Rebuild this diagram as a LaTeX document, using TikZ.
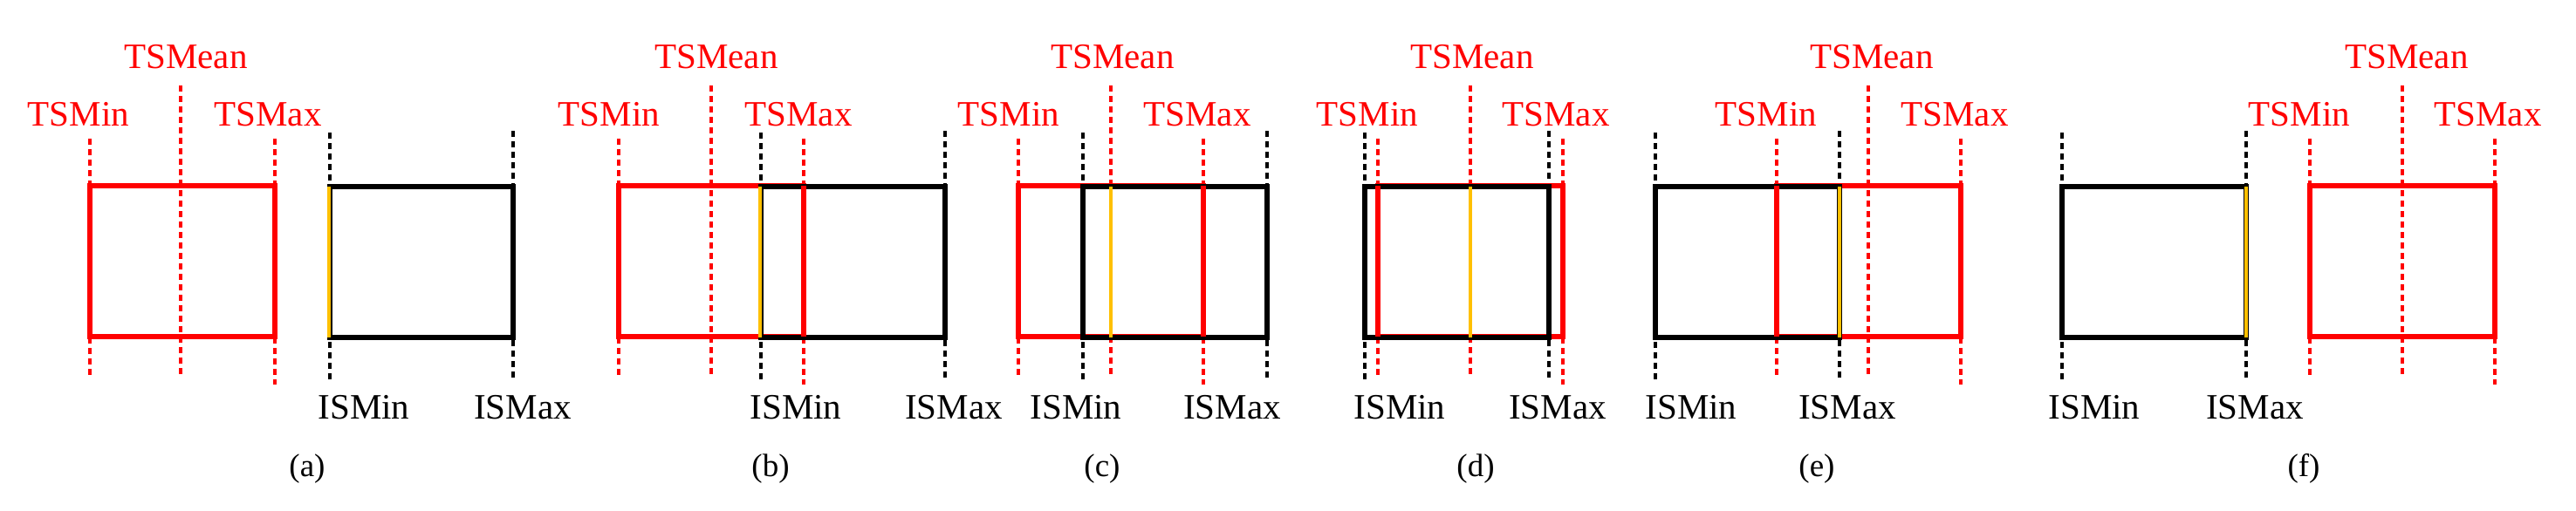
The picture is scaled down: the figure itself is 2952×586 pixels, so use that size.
\documentclass[tikz,border=0pt]{standalone}
\usepackage{fontspec}
\setmainfont{Liberation Serif}
\definecolor{ored}{RGB}{255,0,0}
\definecolor{oorange}{RGB}{255,192,0}
\tikzset{
  rdash/.style={ored,line width=3.5pt,dash pattern=on 7pt off 5pt},
  kdash/.style={black,line width=3.5pt,dash pattern=on 7pt off 5pt},
  rbox/.style={ored,line width=6pt},
  kbox/.style={black,line width=6pt},
  oline/.style={oorange,line width=4pt},
  rlab/.style={text=ored,font=\fontsize{41}{44}\selectfont,anchor=base,inner sep=0pt},
  klab/.style={text=black,font=\fontsize{41}{44}\selectfont,anchor=base,inner sep=0pt},
  sublab/.style={text=black,font=\fontsize{37}{40}\selectfont,anchor=base,inner sep=0pt}
}
\newcommand{\mypanel}[9]{%
  \draw[rdash] (#1,159) -- (#1,434);
  \draw[rdash] (#2,98) -- (#2,430);
  \draw[rdash] (#3,159) -- (#3,441);
  \draw[kdash] (#4,152) -- (#4,435);
  \draw[kdash] (#5,150) -- (#5,437);
  \draw[rbox] (#1,213) rectangle (#3,386);
  \draw[kbox] (#4,214) rectangle (#5,387);
  \draw[oline] (#6,214) -- (#6,387);
  \node[sublab] at (#7,546) {(#8)};
  #9
}
\begin{document}
\begin{tikzpicture}[x=1pt,y=-1pt]
\useasboundingbox (0,0) rectangle (2952,586);
% (a)
\mypanel{103}{207}{315}{378}{588}{377}{352}{a}{%
 \node[rlab] (a1) at (90,144) {TSMin};
 \node[rlab] (a2) at (213,78) {TSMean};
 \node[rlab] (a3) at (307,144) {TSMax};
 \node[klab] (a4) at (417,480) {ISMin};
 \node[klab] (a5) at (599,480) {ISMax};}
% (b)
\mypanel{709}{815}{921}{872}{1083}{871}{883}{b}{%
 \draw[rbox] (921,213) -- (921,386);
 \draw[oline] (871,214) -- (871,387);
 \node[rlab] (b1) at (698,144) {TSMin};
 \node[rlab] (b2) at (821,78) {TSMean};
 \node[rlab] (b3) at (915,144) {TSMax};
 \node[klab] (b4) at (912,480) {ISMin};
 \node[klab] (b5) at (1093,480) {ISMax};}
% (c)
\mypanel{1167}{1273}{1379}{1241}{1452}{1273}{1263}{c}{%
 \draw[rbox] (1379,213) -- (1379,386);
 \node[rlab] (c1) at (1156,144) {TSMin};
 \node[rlab] (c2) at (1275,78) {TSMean};
 \node[rlab] (c3) at (1372,144) {TSMax};
 \node[klab] (c4) at (1233,480) {ISMin};
 \node[klab] (c5) at (1412,480) {ISMax};}
% (d)
\mypanel{1579}{1685}{1791}{1564}{1775}{1685}{1691}{d}{%
 \draw[rbox] (1579,213) -- (1579,386);
 \node[rlab] (d1) at (1567,144) {TSMin};
 \node[rlab] (d2) at (1687,78) {TSMean};
 \node[rlab] (d3) at (1783,144) {TSMax};
 \node[klab] (d4) at (1604,480) {ISMin};
 \node[klab] (d5) at (1785,480) {ISMax};}
% (e)
\mypanel{2036}{2141}{2247}{1897}{2108}{2108}{2082}{e}{%
 \draw[rbox] (2036,213) -- (2036,386);
 \node[rlab] (e1) at (2024,144) {TSMin};
 \node[rlab] (e2) at (2145,78) {TSMean};
 \node[rlab] (e3) at (2240,144) {TSMax};
 \node[klab] (e4) at (1938,480) {ISMin};
 \node[klab] (e5) at (2117,480) {ISMax};}
% (f)
\mypanel{2647}{2753}{2859}{2363}{2574}{2574}{2640}{f}{%
 \node[rlab] (f1) at (2635,144) {TSMin};
 \node[rlab] (f2) at (2758,78) {TSMean};
 \node[rlab] (f3) at (2851,144) {TSMax};
 \node[klab] (f4) at (2400,480) {ISMin};
 \node[klab] (f5) at (2584,480) {ISMax};}
\end{tikzpicture}
\end{document}
